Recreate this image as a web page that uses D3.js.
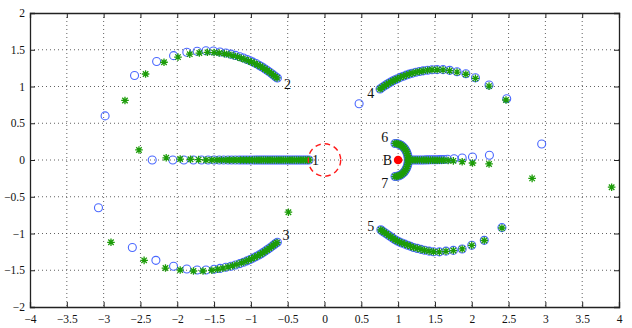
<!DOCTYPE html>
<html><head><meta charset="utf-8">
<script src="https://cdn.jsdelivr.net/npm/d3@7"></script>
<style>
body{margin:0;background:#fff;}
svg{display:block;}
text{font-family:"Liberation Serif","Times New Roman",serif;}
</style></head>
<body><svg id="chart" width="632" height="328"></svg>
<script>
// ---- tick labels ----
const xTicks = [-4,-3.5,-3,-2.5,-2,-1.5,-1,-0.5,0,0.5,1,1.5,2,2.5,3,3.5,4];
const xTickLabels = ["\u22124","\u22123.5","\u22123","\u22122.5","\u22122","\u22121.5","\u22121","\u22120.5","0","0.5","1","1.5","2","2.5","3","3.5","4"];
const yTicks = [-2,-1.5,-1,-0.5,0,0.5,1,1.5,2];
const yTickLabels = ["\u22122","\u22121.5","\u22121","\u22120.5","0","0.5","1","1.5","2"];

// ---- blue circles series (by branch) ----
const blue1 = [[-2.34,0],[-2.06,0],[-1.91,0],[-1.78,0],[-1.67,0],[-1.58,0],[-1.50,0],[-1.43,0],[-1.37,0],[-1.31,0],[-1.26,0],[-1.21,0],[-1.16,0],[-1.12,0],[-1.08,0],[-1.04,0],[-1.00,0],[-0.96,0],[-0.93,0],[-0.90,0],[-0.87,0],[-0.84,0],[-0.81,0],[-0.78,0],[-0.75,0],[-0.72,0],[-0.69,0],[-0.66,0],[-0.63,0],[-0.60,0],[-0.57,0],[-0.54,0],[-0.51,0],[-0.48,0],[-0.45,0],[-0.42,0],[-0.39,0],[-0.36,0],[-0.33,0],[-0.30,0],[-0.27,0],[-0.24,0],[-0.21,0]];
const blue2 = [[-2.98,0.60],[-2.58,1.15],[-2.28,1.34],[-2.05,1.42],[-1.87,1.465],[-1.73,1.48],[-1.61,1.487],[-1.51,1.483],[-1.42,1.47],[-1.34,1.455],[-1.27,1.44],[-1.21,1.423],[-1.15,1.405],[-1.10,1.387],[-1.05,1.368],[-1.01,1.35],[-0.97,1.332],[-0.93,1.312],[-0.89,1.29],[-0.86,1.272],[-0.83,1.253],[-0.80,1.233],[-0.77,1.213],[-0.74,1.192],[-0.71,1.17],[-0.685,1.15],[-0.66,1.13],[-0.64,1.115]];
const blue3 = [[-3.07,-0.65],[-2.61,-1.19],[-2.29,-1.365],[-2.05,-1.446],[-1.87,-1.483],[-1.73,-1.497],[-1.61,-1.497],[-1.50,-1.487],[-1.42,-1.475],[-1.34,-1.46],[-1.27,-1.445],[-1.21,-1.428],[-1.15,-1.41],[-1.10,-1.392],[-1.05,-1.372],[-1.01,-1.354],[-0.97,-1.335],[-0.93,-1.315],[-0.89,-1.293],[-0.86,-1.275],[-0.83,-1.256],[-0.80,-1.236],[-0.77,-1.215],[-0.74,-1.194],[-0.71,-1.172],[-0.685,-1.152],[-0.66,-1.133],[-0.64,-1.12]];
const blue4 = [[0.47,0.766],[2.475,0.834],[2.235,1.02],[2.05,1.12],[1.92,1.174],[1.80,1.20],[1.70,1.22],[1.61,1.23],[1.53,1.23],[1.46,1.227],[1.40,1.222],[1.34,1.213],[1.29,1.204],[1.24,1.193],[1.19,1.18],[1.15,1.168],[1.11,1.155],[1.07,1.14],[1.03,1.124],[0.99,1.106],[0.96,1.092],[0.93,1.077],[0.90,1.06],[0.87,1.043],[0.84,1.025],[0.81,1.005],[0.78,0.985],[0.755,0.966]];
const blue5 = [[2.41,-0.92],[2.17,-1.093],[2.0,-1.16],[1.87,-1.21],[1.75,-1.23],[1.65,-1.24],[1.56,-1.25],[1.48,-1.248],[1.42,-1.24],[1.36,-1.228],[1.31,-1.216],[1.26,-1.203],[1.21,-1.19],[1.17,-1.175],[1.13,-1.16],[1.09,-1.145],[1.05,-1.13],[1.02,-1.117],[0.99,-1.102],[0.96,-1.085],[0.93,-1.066],[0.90,-1.046],[0.87,-1.025],[0.84,-1.004],[0.81,-0.983],[0.785,-0.965],[0.765,-0.95]];
const blue6 = [[0.958,0.225],[0.981,0.223],[1.005,0.217],[1.027,0.208],[1.048,0.195],[1.068,0.179],[1.085,0.159],[1.101,0.137],[1.114,0.113],[1.124,0.086],[1.132,0.058],[1.136,0.029],[1.138,0]];
const blue7 = [[0.958,-0.225],[0.981,-0.223],[1.005,-0.217],[1.027,-0.208],[1.048,-0.195],[1.068,-0.179],[1.085,-0.159],[1.101,-0.137],[1.114,-0.113],[1.124,-0.086],[1.132,-0.058],[1.136,-0.029]];
const blueStem = [[1.14,0],[1.17,0],[1.20,0],[1.23,0],[1.26,0],[1.29,0],[1.32,0.001],[1.35,0.001],[1.38,0.002],[1.41,0.002],[1.44,0.003],[1.47,0.003],[1.50,0.004],[1.53,0.004],[1.56,0.005],[1.59,0.005],[1.62,0.006],[1.67,0.01],[1.76,0.018],[1.87,0.027],[2.01,0.04],[2.24,0.064],[2.95,0.218]];

// ---- green stars series (by branch) ----
const green1 = [[-2.52,0.137],[-2.15,0.03],[-1.96,0.013],[-1.82,0.01],[-1.71,0.005],[-1.61,0],[-1.53,0],[-1.46,0],[-1.40,0],[-1.34,0],[-1.29,0],[-1.24,0],[-1.19,0],[-1.14,0],[-1.10,0],[-1.06,0],[-1.02,0],[-0.98,0],[-0.95,0],[-0.92,0],[-0.89,0],[-0.86,0],[-0.83,0],[-0.80,0],[-0.77,0],[-0.74,0],[-0.71,0],[-0.68,0],[-0.65,0],[-0.62,0],[-0.59,0],[-0.56,0],[-0.53,0],[-0.50,0],[-0.47,0],[-0.44,0],[-0.41,0],[-0.38,0],[-0.35,0],[-0.32,0],[-0.29,0],[-0.26,0],[-0.23,0],[-0.21,0]];
const green2 = [[-2.71,0.81],[-2.43,1.17],[-2.18,1.33],[-1.99,1.40],[-1.83,1.44],[-1.70,1.455],[-1.59,1.465],[-1.50,1.462],[-1.43,1.455],[-1.36,1.447],[-1.30,1.435],[-1.24,1.42],[-1.18,1.403],[-1.13,1.385],[-1.08,1.367],[-1.03,1.348],[-0.99,1.332],[-0.95,1.314],[-0.91,1.295],[-0.87,1.275],[-0.84,1.257],[-0.81,1.238],[-0.78,1.218],[-0.75,1.197],[-0.72,1.175],[-0.695,1.155],[-0.67,1.135],[-0.645,1.118]];
const green3 = [[-0.49,-0.71],[-2.90,-1.12],[-2.45,-1.365],[-2.16,-1.47],[-1.96,-1.497],[-1.78,-1.51],[-1.65,-1.51],[-1.53,-1.50],[-1.45,-1.487],[-1.38,-1.472],[-1.31,-1.455],[-1.25,-1.438],[-1.19,-1.42],[-1.13,-1.40],[-1.08,-1.38],[-1.03,-1.36],[-0.99,-1.343],[-0.95,-1.324],[-0.91,-1.304],[-0.87,-1.282],[-0.84,-1.264],[-0.81,-1.245],[-0.78,-1.224],[-0.75,-1.202],[-0.72,-1.18],[-0.695,-1.16],[-0.67,-1.14],[-0.645,-1.123]];
const green4 = [[2.465,0.816],[2.235,1.005],[2.05,1.11],[1.92,1.167],[1.80,1.196],[1.70,1.215],[1.61,1.226],[1.53,1.228],[1.46,1.227],[1.40,1.222],[1.34,1.213],[1.29,1.204],[1.24,1.193],[1.19,1.18],[1.15,1.168],[1.11,1.155],[1.07,1.14],[1.03,1.124],[0.99,1.106],[0.96,1.092],[0.93,1.077],[0.90,1.06],[0.87,1.043],[0.84,1.025],[0.81,1.005],[0.78,0.985],[0.755,0.966]];
const green5 = [[2.41,-0.925],[2.17,-1.095],[2.0,-1.162],[1.87,-1.21],[1.75,-1.232],[1.65,-1.242],[1.56,-1.25],[1.48,-1.248],[1.42,-1.24],[1.36,-1.228],[1.31,-1.216],[1.26,-1.203],[1.21,-1.19],[1.17,-1.175],[1.13,-1.16],[1.09,-1.145],[1.05,-1.13],[1.02,-1.117],[0.99,-1.102],[0.96,-1.085],[0.93,-1.066],[0.90,-1.046],[0.87,-1.025],[0.84,-1.004],[0.81,-0.983],[0.785,-0.965],[0.765,-0.95]];
const green6 = [[0.958,0.225],[0.981,0.223],[1.005,0.217],[1.027,0.208],[1.048,0.195],[1.068,0.179],[1.085,0.159],[1.101,0.137],[1.114,0.113],[1.124,0.086],[1.132,0.058],[1.136,0.029],[1.138,0]];
const green7 = [[0.958,-0.225],[0.981,-0.223],[1.005,-0.217],[1.027,-0.208],[1.048,-0.195],[1.068,-0.179],[1.085,-0.159],[1.101,-0.137],[1.114,-0.113],[1.124,-0.086],[1.132,-0.058],[1.136,-0.029]];
const greenStem = [[1.14,0],[1.17,0],[1.20,0],[1.23,0],[1.26,0],[1.29,0],[1.32,-0.001],[1.35,-0.001],[1.38,-0.001],[1.41,-0.002],[1.44,-0.002],[1.47,-0.002],[1.50,-0.003],[1.53,-0.003],[1.56,-0.003],[1.59,-0.004],[1.62,-0.004],[1.68,-0.006],[1.75,-0.012],[1.87,-0.023],[2.01,-0.041],[2.235,-0.054],[2.82,-0.25],[3.90,-0.37]];

// ---- special marks ----
const pointB = [1, 0];
const circleCenter = [0, 0];
const circleRadius = 0.22;
const branchLabels = [
  {t:"1", x:-0.17, y:0},
  {t:"2", x:-0.55, y:1.03},
  {t:"3", x:-0.57, y:-1.02},
  {t:"4", x:0.58, y:0.916},
  {t:"5", x:0.58, y:-0.894},
  {t:"6", x:0.77, y:0.31},
  {t:"7", x:0.77, y:-0.31},
  {t:"B", x:0.79, y:0}
];

const blueAll = [].concat(blue1, blue2, blue3, blue4, blue5, blue6, blue7, blueStem);
const greenAll = [].concat(green1, green2, green3, green4, green5, green6, green7, greenStem);

const svg = d3.select("#chart");
const L = 30, R = 619, T = 13, B = 307;
const x = d3.scaleLinear().domain([-4,4]).range([L,R]);
const y = d3.scaleLinear().domain([-2,2]).range([B,T]);

// grid
const grid = svg.append("g").attr("stroke","#3a3a3a").attr("stroke-width",0.8).attr("stroke-dasharray","1,3");
xTicks.slice(1,-1).forEach(v=>grid.append("line").attr("x1",x(v)).attr("x2",x(v)).attr("y1",T).attr("y2",B));
yTicks.slice(1,-1).forEach(v=>grid.append("line").attr("x1",L).attr("x2",R).attr("y1",y(v)).attr("y2",y(v)));

// axes
const fmtX = (d,i)=>xTickLabels[i];
const fmtY = (d,i)=>yTickLabels[i];
const ax = svg.append("g").attr("transform",`translate(0,${B})`).call(d3.axisBottom(x).tickValues(xTicks).tickFormat(fmtX).tickSize(-5).tickPadding(8));
const ay = svg.append("g").attr("transform",`translate(${L},0)`).call(d3.axisLeft(y).tickValues(yTicks).tickFormat(fmtY).tickSize(-5).tickPadding(5));
const at = svg.append("g").attr("transform",`translate(0,${T})`).call(d3.axisTop(x).tickValues(xTicks).tickFormat("").tickSize(-5));
const ar = svg.append("g").attr("transform",`translate(${R},0)`).call(d3.axisRight(y).tickValues(yTicks).tickFormat("").tickSize(-5));
[ax,ay,at,ar].forEach(g=>{
  g.select(".domain").attr("stroke","#222").attr("stroke-width",1.3);
  g.selectAll(".tick line").attr("stroke","#222").attr("stroke-width",1);
  g.selectAll("text").attr("font-family","Liberation Serif, Times New Roman, serif").attr("font-size",11.5).attr("fill","#111");
});

// blue circles
svg.append("g").selectAll("circle").data(blueAll).join("circle")
  .attr("cx",d=>x(d[0])).attr("cy",d=>y(d[1])).attr("r",4)
  .attr("fill","none").attr("stroke","#4a68ff").attr("stroke-width",1.1);

// green stars
const s = 3.8, q = s*0.72;
const starPath = `M0,${-s}V${s}M${-s},0H${s}M${-q},${-q}L${q},${q}M${-q},${q}L${q},${-q}`;
svg.append("g").selectAll("path").data(greenAll).join("path")
  .attr("transform",d=>`translate(${x(d[0])},${y(d[1])})`)
  .attr("d",starPath).attr("fill","none").attr("stroke","#1c9c08").attr("stroke-width",1.3);

// red dashed circle
svg.append("circle").attr("cx",x(circleCenter[0])).attr("cy",y(circleCenter[1]))
  .attr("r",x(circleRadius)-x(0)).attr("fill","none").attr("stroke","#ff1a1a")
  .attr("stroke-width",1.4).attr("stroke-dasharray","5.5,4");

// point B
svg.append("circle").attr("cx",x(pointB[0])).attr("cy",y(pointB[1])).attr("r",4.3).attr("fill","#ff0000");

// labels
svg.append("g").selectAll("text").data(branchLabels).join("text")
  .attr("x",d=>x(d.x)).attr("y",d=>y(d.y)).attr("dy","0.35em")
  .attr("font-size",14).attr("fill","#111").text(d=>d.t);
</script></body></html>
